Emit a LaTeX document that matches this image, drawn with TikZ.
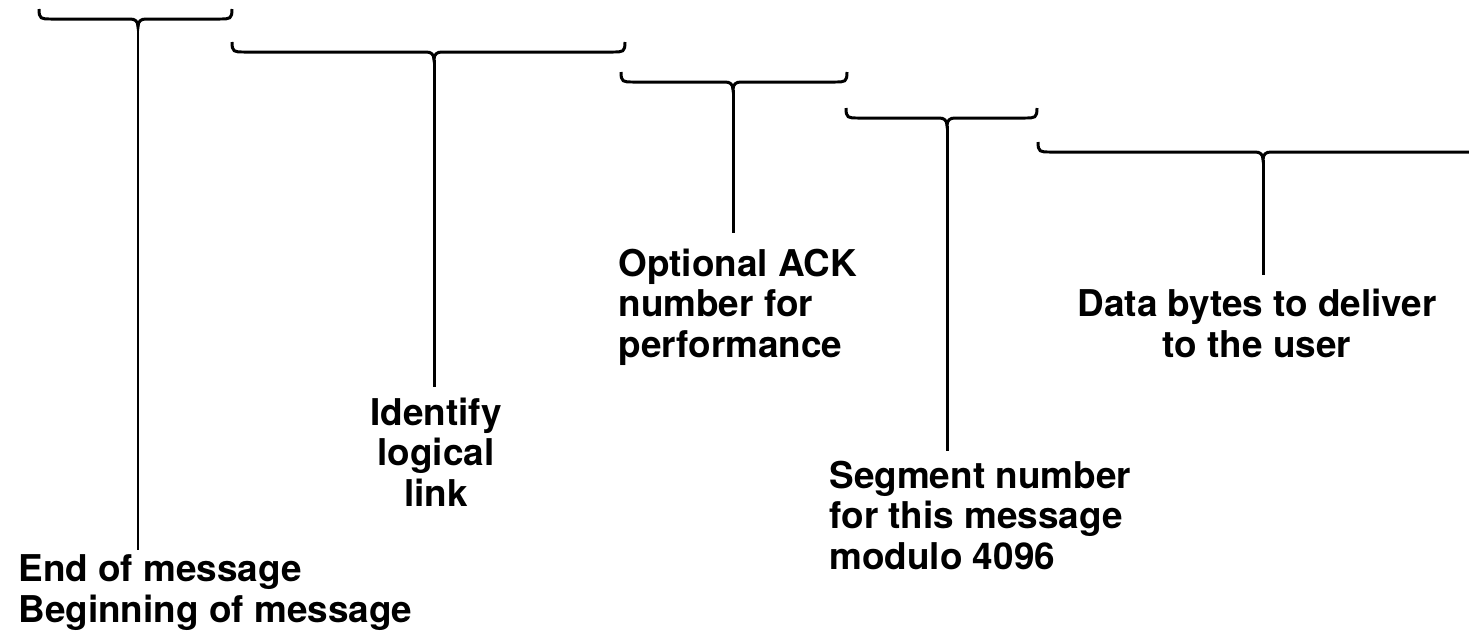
\documentclass[tikz,border=0pt]{standalone}
\usepackage{fontspec}
\setmainfont{TeX Gyre Heros}
\usepackage{tikz}

\begin{document}
\begin{tikzpicture}[x=0.02cm,y=-0.02cm,line width=1.7pt,
    lbl/.style={inner sep=0pt,font=\bfseries\fontsize{21}{23}\selectfont}]
  \useasboundingbox (0,0) rectangle (1469,637);
  % braces: left/right/middle/height/name
  \foreach \l/\r/\m/\y/\n in {39/232/138/19/a,232/625/434/52/b,621/847/733/82/c,846/1037/947/118/d,1038/1500/1263/152/e}{%
    \draw (\l,\y-10) .. controls (\l,\y) and (\l+2,\y) .. (\l+12,\y) -- (\m-8,\y)
      .. controls (\m-3,\y) and (\m,\y+2) .. (\m,\y+8)
      .. controls (\m,\y+2) and (\m+3,\y) .. (\m+8,\y) -- (\r-12,\y)
      .. controls (\r-2,\y) and (\r,\y) .. (\r,\y-10);
    \coordinate (tip\n) at (\m,\y+8);  }

  % base = last line of each label
  \node[lbl,anchor=base west,align=left] (eom) at (17,622) {End of message\\Beginning of message};
  \node[lbl,anchor=base,align=center] (link) at (436,506) {Identify\\logical\\link};
  \node[lbl,anchor=base west,align=left] (ack) at (617,357) {Optional ACK\\number for\\performance};
  \node[lbl,anchor=base west,align=left] (seg) at (828,569) {Segment number\\for this message\\modulo 4096};
  \node[lbl,anchor=base,align=center] (data) at (1257,357) {Data bytes to deliver\\to the user};

  \draw[shorten >=2pt] (tipa) -- (tipa |- eom.north);
  \draw[shorten >=5pt] (tipb) -- (tipb |- link.north);
  \draw[shorten >=8pt] (tipc) -- (tipc |- ack.north);
  \draw[shorten >=5pt] (tipd) -- (tipd |- seg.north);
  \draw[shorten >=7pt] (tipe) -- (tipe |- data.north);
\end{tikzpicture}
\end{document}
